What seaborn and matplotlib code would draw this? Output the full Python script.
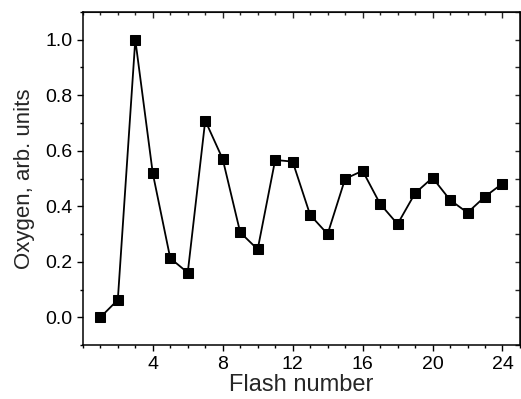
import numpy as np
import pandas as pd
import matplotlib
matplotlib.use("Agg")
import matplotlib.pyplot as plt
from matplotlib.ticker import MultipleLocator
import seaborn as sns

flash = list(range(1, 25))
oxygen = [0.0, 0.063, 1.0, 0.519, 0.213, 0.161, 0.709, 0.570,
          0.306, 0.245, 0.567, 0.561, 0.369, 0.300, 0.499, 0.528,
          0.409, 0.336, 0.447, 0.503, 0.423, 0.377, 0.435, 0.482]
xtick_vals = [4, 8, 12, 16, 20, 24]
ytick_vals = [0.0, 0.2, 0.4, 0.6, 0.8, 1.0]
ytick_labels = ["0.0", "0.2", "0.4", "0.6", "0.8", "1.0"]

sns.set_style("ticks")
plt.rcParams['font.family'] = ['Liberation Sans', 'DejaVu Sans']

df = pd.DataFrame({"Flash number": flash, "Oxygen": oxygen})

fig = plt.figure(figsize=(5.21, 3.99), dpi=100)
ax = fig.add_axes([0.159, 0.135, 0.839, 0.835])

sns.lineplot(data=df, x="Flash number", y="Oxygen", ax=ax, color="black",
             marker="s", markersize=7.7, markeredgecolor="black",
             markerfacecolor="black", linewidth=1.3)

ax.set_xlim(0, 25)
ax.set_ylim(-0.1, 1.1)
ax.set_xticks(xtick_vals)
ax.xaxis.set_minor_locator(MultipleLocator(1))
ax.set_yticks(ytick_vals)
ax.set_yticklabels(ytick_labels)
ax.yaxis.set_minor_locator(MultipleLocator(0.1))

for s in ax.spines.values():
    s.set_visible(True)
    s.set_linewidth(1.1)
    s.set_color("black")

ax.tick_params(which="both", direction="out", bottom=True, left=True,
               top=False, right=False, labelsize=14, colors="black", width=1.0)
ax.tick_params(which="major", length=4.5, pad=3)
ax.tick_params(which="minor", length=2.5)

# inward ticks on top and right, no labels
tx = ax.secondary_xaxis("top")
tx.set_xticks(xtick_vals)
tx.xaxis.set_minor_locator(MultipleLocator(1))
tx.tick_params(which="both", direction="in", labeltop=False, width=1.0)
tx.tick_params(which="major", length=4.5)
tx.tick_params(which="minor", length=2.5)
ty = ax.secondary_yaxis("right")
ty.set_yticks(ytick_vals)
ty.yaxis.set_minor_locator(MultipleLocator(0.1))
ty.tick_params(which="both", direction="in", labelright=False, width=1.0, length=3.5)

ax.set_xlabel("Flash number", fontsize=17, labelpad=1)
ax.set_ylabel("Oxygen, arb. units", fontsize=16, labelpad=7)

fig.savefig("out.png", dpi=100)
